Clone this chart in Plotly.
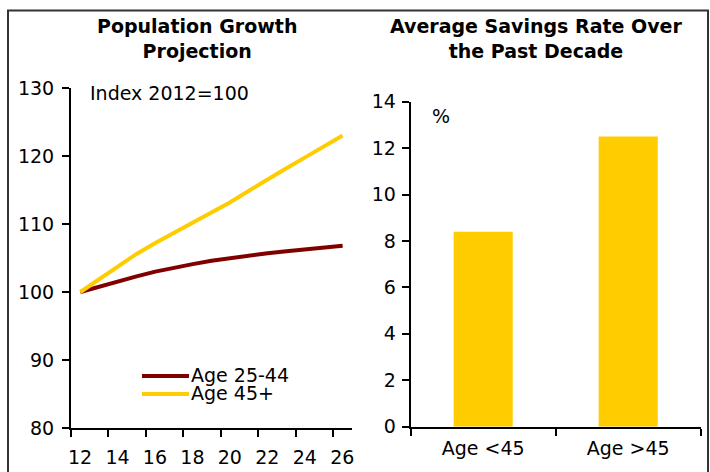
import plotly.graph_objects as go

# Population projection, index 2012 = 100
years = list(range(12, 27))
age_25_44 = [100.0, 100.8, 101.6, 102.3, 103.0, 103.6, 104.1, 104.6, 105.0,
             105.4, 105.7, 106.0, 106.3, 106.6, 106.8]
age_45_plus = [100.0, 101.9, 103.8, 105.6, 107.2, 108.7, 110.1, 111.6, 113.2,
               114.9, 116.6, 118.2, 119.8, 121.4, 123.0]

# Average savings rate over the past decade (%)
saving_groups = ["Age <45", "Age >45"]
saving_rates = [8.4, 12.5]

year_ticks = [12, 14, 16, 18, 20, 22, 24, 26]
left_y_ticks = [80, 90, 100, 110, 120, 130]
right_y_ticks = [0, 2, 4, 6, 8, 10, 12, 14]

DARK_RED = "#800000"
GOLD = "#FFCC00"
FONT = "DejaVu Sans"
W, H = 710, 472


def px_x(v):
    return v / W


def px_y(v):
    return 1 - v / H


fig = go.Figure()

fig.add_trace(go.Scatter(x=years, y=age_25_44, mode="lines", name="Age 25-44",
                         line=dict(color=DARK_RED, width=4), xaxis="x", yaxis="y",
                         showlegend=False))
fig.add_trace(go.Scatter(x=years, y=age_45_plus, mode="lines", name="Age 45+",
                         line=dict(color=GOLD, width=4), xaxis="x", yaxis="y",
                         showlegend=False))
fig.add_trace(go.Bar(x=saving_groups, y=saving_rates, marker=dict(color=GOLD, line=dict(width=0)),
                     xaxis="x2", yaxis="y2", showlegend=False))

axis_common = dict(showline=True, linecolor="black", linewidth=2, ticks="outside",
                   ticklen=7, tickwidth=2, tickcolor="black", showgrid=False,
                   zeroline=False, automargin=False,
                   tickfont=dict(family=FONT, size=19, color="black"))

fig.update_layout(
    width=W, height=H, autosize=False,
    margin=dict(l=0, r=0, t=0, b=0, pad=0, autoexpand=False),
    showlegend=False,
    paper_bgcolor="white", plot_bgcolor="white",
    bargap=0.593,
    xaxis=dict(**axis_common, domain=[px_x(71), px_x(352)], range=[11.5, 26.5],
               tickvals=[t - 0.5 for t in year_ticks], ticktext=[str(t) for t in year_ticks],
               ticklabelshift=9, ticklabelstandoff=4, anchor="y"),
    yaxis=dict(**axis_common, domain=[px_y(428), px_y(88)], range=[80, 130],
               tickvals=left_y_ticks, anchor="x", ticklabelstandoff=4),
    xaxis2=dict(**axis_common, domain=[px_x(410.7), px_x(700.7)], range=[-0.5, 1.5],
                type="category", tickson="boundaries", anchor="y2", ticklabelstandoff=3),
    yaxis2=dict(**axis_common, domain=[px_y(426.7), px_y(101.7)], range=[0, 14],
                tickvals=right_y_ticks, anchor="x2", ticklabelstandoff=2),
)

# Outer frame
fig.add_shape(type="rect", xref="paper", yref="paper",
              x0=px_x(8), x1=px_x(708), y0=-0.2, y1=px_y(10.5),
              line=dict(color="#333333", width=2), fillcolor="rgba(0,0,0,0)")

title_font = dict(family=FONT, size=19, color="black", weight="bold")
fig.add_annotation(text="Population Growth<br>Projection", xref="paper", yref="paper",
                   x=px_x(197), y=px_y(38), xanchor="center", yanchor="middle",
                   showarrow=False, font=title_font)
fig.add_annotation(text="Average Savings Rate Over<br>the Past Decade", xref="paper", yref="paper",
                   x=px_x(536), y=px_y(38), xanchor="center", yanchor="middle",
                   showarrow=False, font=title_font)

label_font = dict(family=FONT, size=19, color="black")
fig.add_annotation(text="Index 2012=100", xref="paper", yref="paper",
                   x=px_x(88), y=px_y(93), xanchor="left", yanchor="middle",
                   showarrow=False, font=label_font)
fig.add_annotation(text="%", xref="paper", yref="paper",
                   x=px_x(430), y=px_y(116), xanchor="left", yanchor="middle",
                   showarrow=False, font=label_font)

# Legend for the projection panel
legend_items = [("Age 25-44", DARK_RED, 376), ("Age 45+", GOLD, 394)]
for name, color, ypix in legend_items:
    fig.add_shape(type="line", xref="paper", yref="paper",
                  x0=px_x(142), x1=px_x(189), y0=px_y(ypix), y1=px_y(ypix),
                  line=dict(color=color, width=4))
    fig.add_annotation(text=name, xref="paper", yref="paper",
                       x=px_x(189), y=px_y(ypix - 1), xanchor="left", yanchor="middle",
                       showarrow=False, font=label_font)

fig.write_html("out.html")
